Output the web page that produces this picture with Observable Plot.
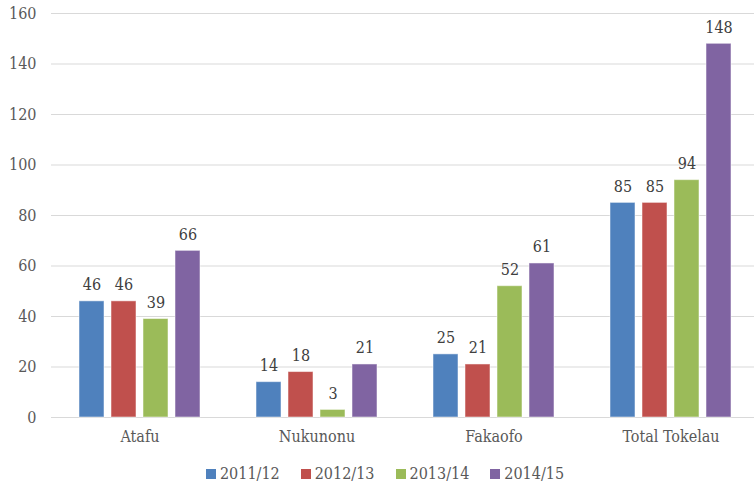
<!DOCTYPE html>
<html>
<head>
<meta charset="utf-8">
<script src="https://cdn.jsdelivr.net/npm/d3@7"></script>
<script src="https://cdn.jsdelivr.net/npm/@observablehq/plot@0.6"></script>
<style>
  html, body { margin: 0; padding: 0; background: #fff; }
  body { width: 754px; height: 485px; overflow: hidden; font-family: "DejaVu Serif Condensed", "DejaVu Serif", serif; font-stretch: condensed; }
  #chart { width: 754px; overflow: hidden; }
  #legend { display: flex; justify-content: center; gap: 21px; height: 33px; padding-top: 10px; box-sizing: border-box; align-items: center; font-size: 16px; color: #595959; margin-left: 16px; }
  #legend .item { display: flex; align-items: center; gap: 4px; }
  #legend .sw { width: 10px; height: 10px; display: inline-block; }
</style>
</head>
<body>
<div id="chart"></div>
<div id="legend"></div>
<script>
const categories = ["Atafu", "Nukunonu", "Fakaofo", "Total Tokelau"];
const series = ["2011/12", "2012/13", "2013/14", "2014/15"];
const v2011 = [46, 14, 25, 85];
const v2012 = [46, 18, 21, 85];
const v2013 = [39, 3, 52, 94];
const v2014 = [66, 21, 61, 148];
const colors = ["#4f81bd", "#c0504d", "#9bbb59", "#8064a2"];
const yTicks = [0, 20, 40, 60, 80, 100, 120, 140, 160];

const allValues = [v2011, v2012, v2013, v2014];
const data = [];
categories.forEach((c, i) => {
  series.forEach((s, j) => data.push({cat: c, series: s, value: allValues[j][i]}));
});

const font = "'DejaVu Serif Condensed', 'DejaVu Serif', serif";

const plot = Plot.plot({
  width: 754,
  height: 452,
  marginTop: 13,
  marginBottom: 35,
  marginLeft: 50,
  marginRight: -5,
  style: {fontFamily: font, fontSize: "16px", color: "#595959", background: "#fff", fontStretch: "condensed", overflow: "hidden"},
  fx: {domain: categories, padding: 0, label: null, axis: null},
  x: {domain: series, paddingInner: 0.22, paddingOuter: 0.86, axis: null},
  y: {domain: [0, 160], axis: null},
  color: {domain: series, range: colors},
  marks: [
    Plot.ruleY(yTicks, {stroke: "#d9d9d9", strokeWidth: 1.2}),
    Plot.axisY(yTicks, {tickSize: 0, tickPadding: 15, label: null, fontSize: 16, fill: "#595959"}),
    Plot.axisFx({anchor: "bottom", tickSize: 0, tickPadding: 13, label: null, fontSize: 16, fill: "#595959"}),
    Plot.barY(data, {fx: "cat", x: "series", y: "value", fill: "series", stroke: "#ffffff", strokeOpacity: 0.5, strokeWidth: 1}),
    Plot.text(data, {fx: "cat", x: "series", y: "value", text: d => String(d.value), lineAnchor: "bottom", dy: -11, fontSize: 16, fill: "#404040"})
  ]
});
document.getElementById("chart").appendChild(plot);

const legend = document.getElementById("legend");
series.forEach((s, i) => {
  const item = document.createElement("div");
  item.className = "item";
  const sw = document.createElement("span");
  sw.className = "sw";
  sw.style.background = colors[i];
  const t = document.createElement("span");
  t.textContent = s;
  item.appendChild(sw);
  item.appendChild(t);
  legend.appendChild(item);
});
</script>
</body>
</html>
